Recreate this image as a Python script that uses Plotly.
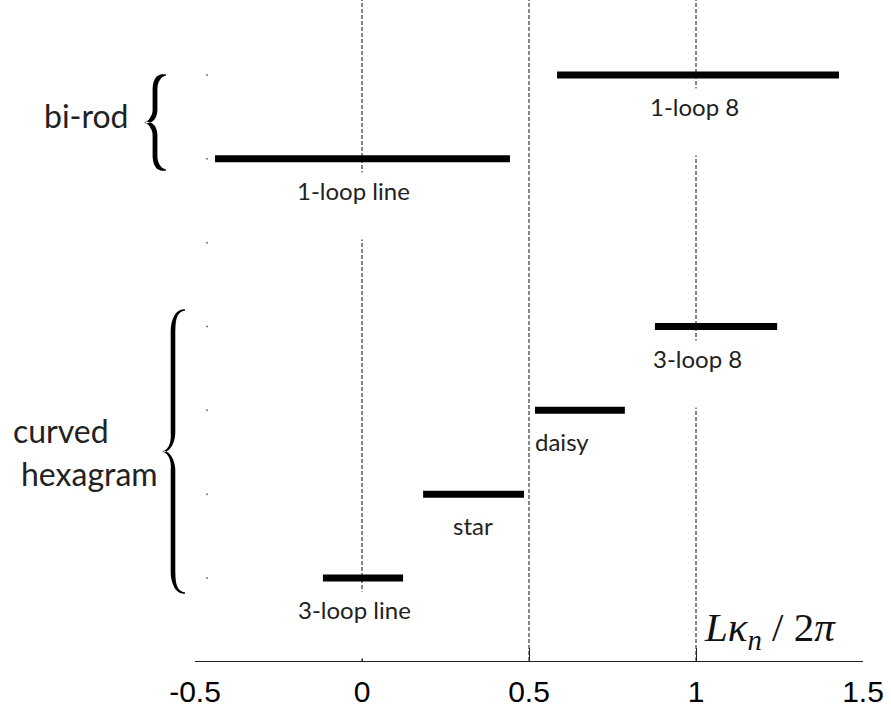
import numpy as np
import plotly.graph_objects as go

# ---------------- data ----------------
shape_names = ["1-loop 8", "1-loop line", "3-loop 8", "daisy", "star", "3-loop line"]
x_start = [0.584, -0.440, 0.877, 0.518, 0.183, -0.117]
x_end = [1.428, 0.443, 1.243, 0.787, 0.485, 0.123]
shape_rows = [7, 6, 4, 3, 2, 1]
all_rows = [1, 2, 3, 4, 5, 6, 7]
tick_vals = [-0.5, 0, 0.5, 1, 1.5]
tick_text = ["-0.5", "0", "0.5", "1", "1.5"]
ref_lines = [0, 0.5, 1]
group_names = ["bi-rod", "curved", "hexagram"]

# ---------------- layout constants ----------------
W, H = 891, 710
ML, MR, MT, MB = 195, 28, 0, 49
PW, PH = W - ML - MR, H - MT - MB
label_x = [0.994, -0.024, 1.003, 0.599, 0.332, -0.021]
label_font = dict(family="Lato, Open Sans, sans-serif", size=24, color="#222")
dot_x = -0.464


def px2paper(px, py):
    return (px - ML) / PW, (MT + PH - py) / PH


def bezier(p0, p1, p2, p3, n=40):
    t = np.linspace(0, 1, n)[:, None]
    return ((1 - t) ** 3) * p0 + 3 * ((1 - t) ** 2) * t * p1 + 3 * (1 - t) * t ** 2 * p2 + t ** 3 * p3


def brace_path(x_end_px, x_stem, x_tip, y_top, y_bot, c_end, c_tip, hmin, hmax):
    P = np.array
    ym = (y_top + y_bot) / 2.0
    s1 = bezier(P([x_end_px, y_top]), P([x_stem + (x_end_px - x_stem) * 0.35, y_top]),
                P([x_stem, y_top + c_end * 0.35]), P([x_stem, y_top + c_end]))
    s2 = np.column_stack([np.full(20, x_stem), np.linspace(y_top + c_end, ym - c_tip, 20)])
    s3 = bezier(P([x_stem, ym - c_tip]), P([x_stem, ym - c_tip * 0.35]),
                P([x_tip + (x_stem - x_tip) * 0.45, ym]), P([x_tip, ym]))
    upper = np.vstack([s1, s2[1:], s3[1:]])
    lower = upper[::-1].copy()
    lower[:, 1] = 2 * ym - lower[:, 1]
    pts = np.vstack([upper, lower[1:]])
    d = np.gradient(pts, axis=0)
    d /= np.linalg.norm(d, axis=1)[:, None]
    nrm = np.column_stack([-d[:, 1], d[:, 0]])
    seg = np.linalg.norm(np.diff(pts, axis=0), axis=1)
    s = np.concatenate([[0], np.cumsum(seg)]) / seg.sum()
    hw = hmin + (hmax - hmin) * np.minimum(1, np.abs(np.sin(2 * np.pi * s)) * 2.2)
    left = pts + nrm * hw[:, None]
    right = pts - nrm * hw[:, None]
    poly = np.vstack([left, right[::-1]])
    coords = [px2paper(x, y) for x, y in poly]
    return "M " + " L ".join(f"{x:.5f},{y:.5f}" for x, y in coords) + " Z"


fig = go.Figure()

# bars
bx, by = [], []
for a, b, r in zip(x_start, x_end, shape_rows):
    bx += [a, b, None]
    by += [r, r, None]
fig.add_trace(go.Scatter(x=bx, y=by, mode="lines", line=dict(color="black", width=7),
                         hoverinfo="skip", showlegend=False))

# tiny row markers
fig.add_trace(go.Scatter(x=[dot_x] * len(all_rows), y=all_rows, mode="markers",
                         marker=dict(size=2, color="#777"), hoverinfo="skip", showlegend=False))

shapes = []
for xv in ref_lines:
    shapes.append(dict(type="line", xref="x", yref="paper", x0=xv, x1=xv, y0=0, y1=1,
                       line=dict(color="#111", width=1, dash="4px,2px"), layer="below"))

# braces
shapes.append(dict(type="path", xref="paper", yref="paper",
                   path=brace_path(166, 155, 145, 75, 170, 15, 13, 0.6, 2.4),
                   fillcolor="black", line=dict(width=0)))
shapes.append(dict(type="path", xref="paper", yref="paper",
                   path=brace_path(185, 173, 163, 310, 593, 22, 18, 0.7, 2.3),
                   fillcolor="black", line=dict(width=0)))

annotations = []
for name, lx, r in zip(shape_names, label_x, shape_rows):
    annotations.append(dict(x=lx, y=r, xref="x", yref="y", text=name + "<br> ", showarrow=False,
                            xanchor="center", yanchor="top", yshift=-13, font=label_font,
                            bgcolor="white", borderpad=3))

group_font = dict(family="Lato, Open Sans, sans-serif", size=32, color="#222")
gx, gy = px2paper(86, 115)
annotations.append(dict(x=gx, y=gy, xref="paper", yref="paper", text=group_names[0],
                        showarrow=False, xanchor="center", yanchor="middle", font=group_font))
gx, gy = px2paper(11, 430)
annotations.append(dict(x=gx, y=gy, xref="paper", yref="paper", text=group_names[1],
                        showarrow=False, xanchor="left", yanchor="middle", font=group_font))
gx, gy = px2paper(19, 473)
annotations.append(dict(x=gx, y=gy, xref="paper", yref="paper", text=group_names[2],
                        showarrow=False, xanchor="left", yanchor="middle", font=group_font))

# axis title
tx, ty = px2paper(702, 630)
annotations.append(dict(x=tx, y=ty, xref="paper", yref="paper",
                        text="<i>Lκ<sub>n</sub></i> / 2<i>π</i>", showarrow=False,
                        xanchor="left", yanchor="middle",
                        font=dict(family="Liberation Serif, serif", size=41, color="#111")))

fig.update_layout(
    width=W, height=H,
    margin=dict(l=ML, r=MR, t=MT, b=MB, pad=0),
    plot_bgcolor="white", paper_bgcolor="white",
    showlegend=False,
    shapes=shapes, annotations=annotations,
    xaxis=dict(range=[-0.5, 1.5], tickvals=tick_vals, ticktext=tick_text,
               showline=True, linecolor="#222", linewidth=1, mirror=False,
               ticks="inside", ticklen=13, tickwidth=1, tickcolor="#222",
               showgrid=False, zeroline=False, ticklabelstandoff=4,
               tickfont=dict(family="Liberation Sans, Arial, sans-serif", size=30, color="black"),
               fixedrange=True),
    yaxis=dict(range=[0.01, 7.895], visible=False, showgrid=False, zeroline=False, fixedrange=True),
)

fig.write_html("out.html", config={"displayModeBar": False},
               post_script="document.body.style.margin='0';document.body.style.overflow='hidden';")
